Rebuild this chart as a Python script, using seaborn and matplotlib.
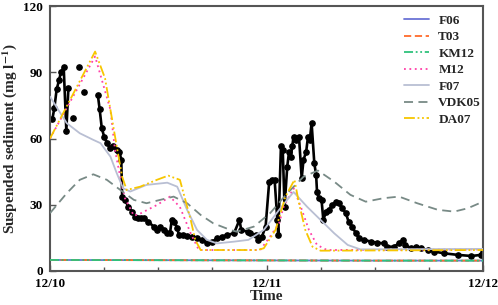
"""Suspended sediment: observed vs. settling-velocity models, 12/10 - 12/12."""

import numpy as np
import pandas as pd
import matplotlib
matplotlib.use('Agg')
import matplotlib.pyplot as plt
import seaborn as sns

# --- observed (hours since 12/10 00:00); NaN breaks the line ---
obs_hours = [0.26, 0.48, 0.74, 1.0, 1.22, 1.52, 1.81, 2.04, np.nan,
             2.52, np.nan, 3.2, np.nan, 3.78, np.nan,
             5.3, 5.5, 5.74, 6.0, 6.3, 6.67, 7.0, 7.4, 7.7, 7.9, 8.0, 8.3, 8.7,
             9.1, 9.4, 9.8, 10.1, 10.4, 10.9, 11.5, 11.85, 12.2, 12.6, 13.0,
             13.3, 13.5, 13.8, 14.1, 14.3, 14.7, 15.2, 15.7, 16.3, 16.85, 17.4,
             18.0, 18.5, 19.1, 19.6, 20.4, 21.0, 21.2, 21.9, 22.2, 22.8, 23.1,
             23.5, 23.9, 24.3, 24.6, 24.9, 25.2, 25.3, 25.6, 25.8, 26.0, 26.3,
             26.5, 26.7, 26.85, 27.0, 27.3, 27.6, 27.9, 28.1, 28.4, 28.6, 28.8,
             29.0, 29.3, 29.5, 29.6, 29.8, 30.1, 30.3, 30.6, 30.9, 31.3, 31.7,
             32.0, 32.4, 32.8, 33.1, 33.5, 33.9, 34.3, 34.8, 35.6, 36.3, 37.0,
             37.4, 38.1, 38.7, 39.1, 39.4, 40.0, 40.6, 41.1, 41.85, 42.6, 43.7,
             45.2, 46.7, 47.8, 48.0]
obs_ssc = [68.8, 73.7, 82.4, 86.3, 90.3, 92.2, 63.6, 82.8, np.nan,
           69.2, np.nan, 92.2, np.nan, 81.0, np.nan,
           79.8, 73.4, 64.7, 60.9, 58.2, 55.6, 56.4, 54.9, 54.1, 50.3, 33.7, 32.2, 29.1,
           26.9, 24.6, 24.0, 24.2, 23.9, 22.3, 20.1, 18.6, 20.1, 18.6, 17.1,
           17.1, 23.1, 22.3, 19.3, 16.3, 16.3, 15.9, 15.4, 14.8, 14.1, 12.8,
           13.3, 14.8, 15.6, 16.3, 17.1, 23.1, 18.6, 17.8, 17.1, 16.3, 14.1,
           15.6, 20.1, 40.5, 41.3, 41.3, 23.1, 16.3, 56.4, 54.9, 29.1, 47.3,
           54.1, 51.8, 56.4, 60.9, 59.4, 60.9, 42.0, 50.3, 54.1, 60.9, 59.4,
           67.0, 48.8, 43.5, 35.9, 33.0, 32.2, 23.1, 26.9, 27.7, 29.9, 31.4,
           30.7, 28.4, 26.2, 22.3, 20.1, 17.1, 14.8, 14.1, 13.3, 12.8, 12.5,
           11.0, 11.0, 12.5, 14.1, 11.8, 10.3, 11.0, 10.3, 9.5, 8.8, 8.0,
           7.3, 6.8, 7.3, 8.8]

# --- models ---
flat_hours = [0, 12, 24, 36, 48]
f06 = [5.0, 4.9, 4.8, 4.7, 4.7]
t03 = [5.0, 4.9, 4.8, 4.7, 4.7]
km12 = [5.0, 4.9, 4.8, 4.7, 4.7]

m12_hours = [0, 5.0, 6.7, 7.2, 8.0, 8.3, 9.3, 10.0, 11.9, 13.3, 14.4, 15.6, 16.5,
             23.3, 24.4, 25.4, 25.9, 27.0, 27.8, 28.7, 29.6, 30.7, 48]
m12 = [60, 97.2, 73, 55, 38, 33, 25, 26, 30, 33.7, 29, 17, 9.5,
       9.5, 15.6, 21.6, 29.1, 37.5, 29.1, 18.6, 11.8, 9.5, 9.8]

da07_hours = [0, 5.0, 6.1, 7.4, 8.0, 8.5, 10.0, 11.85, 13.1, 14.4, 15.0, 15.6,
              16.1, 16.7, 23.0, 23.7, 25.0, 26.1, 27.1, 27.6, 28.3, 29.1, 30.0, 48]
da07 = [60, 99.4, 87.3, 56.4, 42.7, 36.7, 38.2, 41.3, 43.2, 41.3, 32.2, 23.1,
        14.1, 9.5, 9.5, 10.3, 18.6, 33.7, 41.3, 30.7, 18.6, 11.0, 9.2, 9.5]

f07_hours = [0, 1.85, 3.3, 4.8, 5.6, 6.7, 7.4, 8.1, 8.9, 10.7, 13.0, 14.1, 15.2,
             16.3, 17.4, 18.5, 20.4, 22.0, 23.7, 25.4, 27.0, 28.5, 30.0, 31.5,
             33.0, 34.4, 48]
f07 = [79, 67, 62.4, 59.4, 57.9, 51.8, 44.3, 37.5, 36, 39, 40, 38.2, 27.7,
       18.6, 14.1, 12.5, 13.3, 14.1, 18.6, 27.7, 35.8, 29.1, 23.1, 17.1,
       11.8, 9.8, 10.0]

vdk05_hours = [0, 1.85, 3.3, 4.8, 6.3, 7.8, 9.3, 10.7, 12.2, 13.7, 15.2, 16.7,
               18.1, 20.0, 20.7, 22.6, 24.4, 26.3, 28.1, 29.7, 31.5, 33.3, 35.0,
               37.0, 38.7, 40.7, 43.0, 44.8, 46.3, 48]
vdk05 = [26.2, 35.2, 41.3, 43.8, 41.3, 36.7, 32.2, 30.7, 32.2, 33.7, 30.7, 25.4,
         21.6, 18.6, 17.8, 20.1, 26.2, 35.2, 42.7, 45.5, 40.5, 34.5, 31.4,
         33.0, 33.7, 30.7, 27.7, 26.9, 28.4, 31.4]

# name, hours, values, colour, dash pattern
MODELS = [
    ('F06', flat_hours, f06, '#6b73d6', None),
    ('T03', flat_hours, t03, '#ff6b2b', (4, 2)),
    ('KM12', flat_hours, km12, '#2fc27c', (5, 1.5, 1, 1.5, 1, 1.5)),
    ('M12', m12_hours, m12, '#ff3fa8', (1, 2)),
    ('F07', f07_hours, f07, '#b9bfd3', None),
    ('VDK05', vdk05_hours, vdk05, '#788a86', (5, 3)),
    ('DA07', da07_hours, da07, '#f7c600', (6, 1.5, 1, 1.5, 1, 1.5)),
]

sns.set_style('ticks')
plt.rcParams['font.family'] = ['Liberation Serif', 'DejaVu Serif']
plt.rcParams['font.weight'] = 'bold'
plt.rcParams['mathtext.fontset'] = 'stix'

fig = plt.figure(figsize=(4.98, 3.05), dpi=100)
ax = fig.add_axes([0.1004, 0.1115, 0.8695, 0.8685])

# observed: line with gaps + dots
ax.plot(obs_hours, obs_ssc, color='black', lw=1.9, marker='o', ms=3.8,
        mec='black', mfc='black', zorder=2)

for name, hrs, vals, col, dash in MODELS:
    df = pd.DataFrame({'hour': hrs, 'ssc': vals})
    sns.lineplot(data=df, x='hour', y='ssc', ax=ax, color=col, lw=1.3,
                 label=name, zorder=3)
    if dash is not None:
        ax.get_lines()[-1].set_dashes(dash)

ax.set_xlim(0, 48)
ax.set_ylim(0, 120)
ax.set_xticks([0, 24, 48])
ax.set_xticklabels(['12/10', '12/11', '12/12'])
ax.set_xticks(np.arange(0, 49, 6), minor=True)
ax.set_yticks([0, 30, 60, 90, 120])
ax.tick_params(direction='in', length=4, width=1, colors='#555555',
               labelcolor='black', labelsize=9.5, pad=5)
ax.tick_params(which='minor', direction='in', length=3, width=1, colors='#555555')
for lab in ax.get_xticklabels() + ax.get_yticklabels():
    lab.set_fontweight('bold')

for sp in ax.spines.values():
    sp.set_color('#555555')
    sp.set_linewidth(1.5)

ax.set_xlabel('Time', fontsize=11, fontweight='bold', labelpad=0)
ax.set_ylabel('Suspended sediment (mg l$^{\\mathbf{-1}}$)', fontsize=11,
              fontweight='bold', labelpad=3)

ax.legend(loc='upper right', bbox_to_anchor=(1.0, 0.975), frameon=False,
          handlelength=1.9, handletextpad=0.7, labelspacing=0.32,
          borderaxespad=0.0, borderpad=0.15,
          prop={'weight': 'bold', 'size': 9.5})

fig.savefig('out.png', dpi=100)
